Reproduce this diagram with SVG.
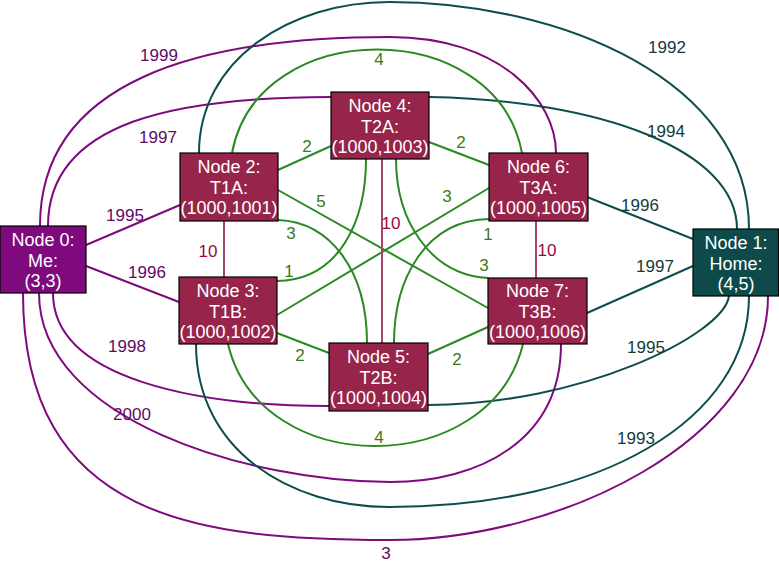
<svg xmlns="http://www.w3.org/2000/svg" width="779" height="582" viewBox="0 0 779 582">
<style>
.e{fill:none;stroke-width:2}
.p{stroke:#7e0a7e}
.t{stroke:#0f4d4d}
.g{stroke:#2a8a22}
.r{stroke:#a84466}
.n{stroke:#000;stroke-width:1.2}
.nr{fill:#97254b}
.np{fill:#7e0a7e}
.nt{fill:#0f4a4a}
.nx{font-family:"Liberation Sans",Arial,sans-serif;font-size:18px;fill:#fff;text-anchor:middle}
.l{font-family:"Liberation Sans",Arial,sans-serif;font-size:17px;text-anchor:middle}
.lp{fill:#5e0b63}
.lt{fill:#153a3a}
.lg{fill:#3b7a12}
.lr{fill:#9a0a35}
</style>
<rect width="779" height="582" fill="#fff"/>
<g id="connectors">
<!-- purple from Node 0 -->
<line class="e p" x1="86" y1="245" x2="180" y2="205"/>
<line class="e p" x1="86" y1="266" x2="179" y2="302"/>
<path class="e p" d="M40,226 C40,80 200,37 390,37 C500,37 556,100 556,153"/>
<path class="e p" d="M48,226 C48,120 180,97 331,97"/>
<path class="e p" d="M53,293 C53,380 200,406 329,406"/>
<path class="e p" d="M39,293 C39,420 250,482 390,482 C480,482 561,440 561,344"/>
<path class="e p" d="M23,293 C23,520 200,540 390,540 C560,540 768,440 768,296"/>
<!-- teal to Node 1 -->
<line class="e t" x1="587" y1="197" x2="693" y2="239"/>
<line class="e t" x1="587" y1="313" x2="693" y2="266"/>
<path class="e t" d="M199,153 C199,60 290,2 389,2 C560,2 749,80 749,229"/>
<path class="e t" d="M429,97 C600,100 737,150 737,229"/>
<path class="e t" d="M428,405 C580,405 724,335 729,296"/>
<path class="e t" d="M196,344 C196,450 290,507 389,507 C600,507 749,420 749,296"/>
<!-- green -->
<line class="e g" x1="278" y1="170" x2="331" y2="146"/>
<line class="e g" x1="429" y1="142" x2="489" y2="165"/>
<line class="e g" x1="277" y1="333" x2="329" y2="353"/>
<line class="e g" x1="428" y1="354" x2="488" y2="327"/>
<line class="e g" x1="278" y1="190" x2="488" y2="308"/>
<line class="e g" x1="277" y1="315" x2="489" y2="188"/>
<path class="e g" d="M232,153 C258,15 496,15 522,153"/>
<path class="e g" d="M228,344 C260,480 490,480 523,344"/>
<path class="e g" d="M278,220 C330,222 367,270 367,343"/>
<path class="e g" d="M277,281 C340,280 366,220 366,159"/>
<path class="e g" d="M489,219 C425,220 394,280 394,343"/>
<path class="e g" d="M396,159 C396,220 430,275 488,278"/>
<!-- red -->
<line class="e r" x1="224" y1="221" x2="224" y2="277"/>
<line class="e r" x1="382" y1="159" x2="382" y2="343"/>
<line class="e r" x1="536" y1="221" x2="536" y2="278"/>
</g>
<g id="labels">
<text class="l lp" x="159" y="61">1999</text>
<text class="l lp" x="158" y="143">1997</text>
<text class="l lp" x="125" y="221">1995</text>
<text class="l lp" x="147" y="278">1996</text>
<text class="l lp" x="127" y="352">1998</text>
<text class="l lp" x="132" y="420">2000</text>
<text class="l lp" x="386" y="559">3</text>
<text class="l lt" x="667" y="53">1992</text>
<text class="l lt" x="666" y="137">1994</text>
<text class="l lt" x="640" y="211">1996</text>
<text class="l lt" x="655" y="272">1997</text>
<text class="l lt" x="646" y="353">1995</text>
<text class="l lt" x="636" y="444">1993</text>
<text class="l lg" x="379" y="65">4</text>
<text class="l lg" x="307" y="152">2</text>
<text class="l lg" x="461" y="148">2</text>
<text class="l lg" x="321" y="207">5</text>
<text class="l lg" x="447" y="202">3</text>
<text class="l lg" x="291" y="239">3</text>
<text class="l lg" x="289" y="277">1</text>
<text class="l lg" x="488" y="240">1</text>
<text class="l lg" x="484" y="271">3</text>
<text class="l lg" x="300" y="361">2</text>
<text class="l lg" x="457" y="365">2</text>
<text class="l lg" x="379" y="443">4</text>
<text class="l lr" x="208" y="257">10</text>
<text class="l lr" x="391" y="229">10</text>
<text class="l lr" x="547" y="256">10</text>
</g>
<g id="node0"><rect class="n np" x="0" y="226" width="86" height="67"/><text class="nx" x="43" y="246">Node 0:</text><text class="nx" x="43" y="266.5">Me:</text><text class="nx" x="43" y="287">(3,3)</text></g>
<g id="node1"><rect class="n nt" x="693" y="229" width="85.5" height="67"/><text class="nx" x="736" y="249">Node 1:</text><text class="nx" x="736" y="269.5">Home:</text><text class="nx" x="736" y="290">(4,5)</text></g>
<g id="node2"><rect class="n nr" x="180" y="153" width="98" height="68"/><text class="nx" x="229" y="173">Node 2:</text><text class="nx" x="229" y="193.5">T1A:</text><text class="nx" x="229" y="214">(1000,1001)</text></g>
<g id="node3"><rect class="n nr" x="179" y="277" width="98" height="67"/><text class="nx" x="228" y="297">Node 3:</text><text class="nx" x="228" y="317.5">T1B:</text><text class="nx" x="228" y="338">(1000,1002)</text></g>
<g id="node4"><rect class="n nr" x="331" y="92" width="98" height="67"/><text class="nx" x="380" y="112">Node 4:</text><text class="nx" x="380" y="132.5">T2A:</text><text class="nx" x="380" y="153">(1000,1003)</text></g>
<g id="node5"><rect class="n nr" x="329" y="343" width="99" height="68"/><text class="nx" x="378.5" y="363">Node 5:</text><text class="nx" x="378.5" y="383.5">T2B:</text><text class="nx" x="378.5" y="404">(1000,1004)</text></g>
<g id="node6"><rect class="n nr" x="489" y="153" width="99" height="68"/><text class="nx" x="538.5" y="173">Node 6:</text><text class="nx" x="538.5" y="193.5">T3A:</text><text class="nx" x="538.5" y="214">(1000,1005)</text></g>
<g id="node7"><rect class="n nr" x="488" y="278" width="99" height="66"/><text class="nx" x="537.5" y="297">Node 7:</text><text class="nx" x="537.5" y="317.5">T3B:</text><text class="nx" x="537.5" y="338">(1000,1006)</text></g>
</svg>
